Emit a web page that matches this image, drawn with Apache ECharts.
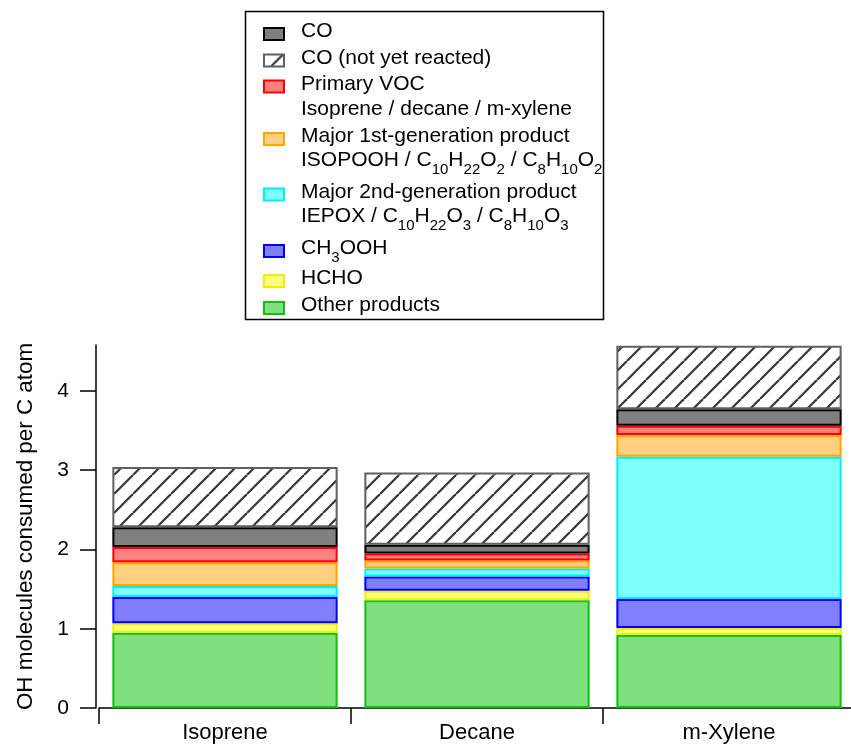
<!DOCTYPE html>
<html><head><meta charset="utf-8">
<script src="https://cdn.jsdelivr.net/npm/echarts@6/dist/echarts.min.js"></script>
<style>html,body{margin:0;padding:0;background:#fff}#c{width:851px;height:744px}</style>
</head><body><div id="c"></div>
<script>
// ---- data ----
const categories = ['Isoprene', 'Decane', 'm-Xylene'];
const otherProducts = [0.95, 1.36, 0.92];
const hcho = [0.12, 0.12, 0.09];
const ch3ooh = [0.33, 0.18, 0.365];
const secondGen = [0.14, 0.10, 1.795];
const firstGen = [0.30, 0.10, 0.275];
const primaryVOC = [0.19, 0.09, 0.115];
const co = [0.25, 0.11, 0.21];
const coNotReacted = [0.76, 0.91, 0.80];
const yTicks = [0, 1, 2, 3, 4];
const yTitle = 'OH molecules consumed per C atom';
const seriesNames = ['Other products', 'HCHO', 'CH3OOH', 'Major 2nd-generation product',
  'Major 1st-generation product', 'Primary VOC', 'CO', 'CO (not yet reacted)'];
const legendOrder = ['CO', 'CO (not yet reacted)', 'Primary VOC', 'Major 1st-generation product',
  'Major 2nd-generation product', 'CH3OOH', 'HCHO', 'Other products'];
const legendSecondLines = ['Isoprene / decane / m-xylene',
  'ISOPOOH / C{s|10}H{s|22}O{s|2} / C{s|8}H{s|10}O{s|2}',
  'IEPOX / C{s|10}H{s|22}O{s|3} / C{s|8}H{s|10}O{s|3}'];

// ---- styles ----
const FONT = '"Liberation Sans", Arial, sans-serif';
const pc = document.createElement('canvas'); pc.width = 19; pc.height = 19;
const pctx = pc.getContext('2d');
pctx.fillStyle = '#fff'; pctx.fillRect(0, 0, 19, 19);
pctx.strokeStyle = '#363636'; pctx.lineWidth = 2.2;
for (const o of [-19, 0, 19]) { pctx.beginPath(); pctx.moveTo(o, 19); pctx.lineTo(o + 19, 0); pctx.stroke(); }

const styles = [
  { color: '#80e080', borderColor: '#10c010' },
  { color: '#ffff80', borderColor: '#f0f000' },
  { color: '#8080ff', borderColor: '#0000ff' },
  { color: '#80ffff', borderColor: '#00f0f0' },
  { color: '#ffd080', borderColor: '#ffa500' },
  { color: '#ff8080', borderColor: '#ff0000' },
  { color: '#808080', borderColor: '#000000' },
  { color: { image: pc, repeat: 'repeat' }, borderColor: '#606060' }
];
const dataArr = [otherProducts, hcho, ch3ooh, secondGen, firstGen, primaryVOC, co, coNotReacted];

const series = seriesNames.map((n, i) => ({
  name: n, type: 'bar', stack: 'total', barCategoryGap: '10.6%',
  data: dataArr[i],
  itemStyle: Object.assign({ borderWidth: 2 }, styles[i]),
  emphasis: { disabled: true }
}));

const rich = {
  s: { fontSize: 15, lineHeight: 15, verticalAlign: 'bottom', fontFamily: FONT, color: '#000' }
};

// icon centers for legend items
const iconCenters = [34, 60.5, 86.5, 139, 194.5, 251, 281, 308];
const legends = legendOrder.map((n, i) => {
  const isSub = n === 'CH3OOH';
  const lh = isSub ? 34 : 26;
  return {
    data: [{ name: n, icon: 'rect' }], orient: 'vertical', left: 263, top: iconCenters[i] - (lh + 5) / 2,
    padding: 0, itemWidth: 20, itemHeight: 12, selectedMode: false,
    formatter: isSub ? 'CH{s|3}OOH' : '{name}',
    textStyle: { fontSize: 21, fontFamily: FONT, color: '#000', lineHeight: lh, padding: [0, 0, 5, 12], rich: rich }
  };
});

const secondTops = [96.5, 143, 199];
const graphics = [{
  type: 'rect', shape: { x: 245.5, y: 11.5, width: 358, height: 308 },
  style: { fill: 'none', stroke: '#000', lineWidth: 1.5 }, silent: true, z: 0
}].concat(legendSecondLines.map((t, i) => ({
  type: 'text', left: 301, top: secondTops[i], silent: true,
  style: { text: t, fontSize: 21, fontFamily: FONT, fill: '#000', lineHeight: i === 0 ? 26 : 34, rich: rich }
})));

const chart = echarts.init(document.getElementById('c'), null, { renderer: 'canvas' });
chart.setOption({
  animation: false,
  backgroundColor: '#fff',
  grid: { left: 99, width: 756, top: 345, bottom: 36, containLabel: false, outerBoundsMode: 'none' },
  legend: legends,
  graphic: graphics,
  xAxis: {
    type: 'category', data: categories, offset: 3,
    axisLine: { lineStyle: { color: '#000', width: 1.5 } },
    axisTick: { show: true, alignWithLabel: false, interval: 0, length: 16, lineStyle: { color: '#000', width: 1.5 } },
    axisLabel: { fontSize: 22, fontFamily: FONT, color: '#000', margin: 11 }
  },
  yAxis: {
    type: 'value', min: 0, max: 4.58, offset: 3,
    name: yTitle, nameLocation: 'middle', nameGap: 59,
    nameTextStyle: { fontSize: 22.4, fontFamily: FONT, color: '#000' },
    axisLine: { show: true, lineStyle: { color: '#000', width: 1.5 } },
    axisTick: { show: true, length: 16, customValues: yTicks, lineStyle: { color: '#000', width: 1.5 } },
    axisLabel: { customValues: yTicks, fontSize: 21, fontFamily: FONT, color: '#000', margin: 27 },
    splitLine: { show: false }
  },
  series: series
});
</script></body></html>
